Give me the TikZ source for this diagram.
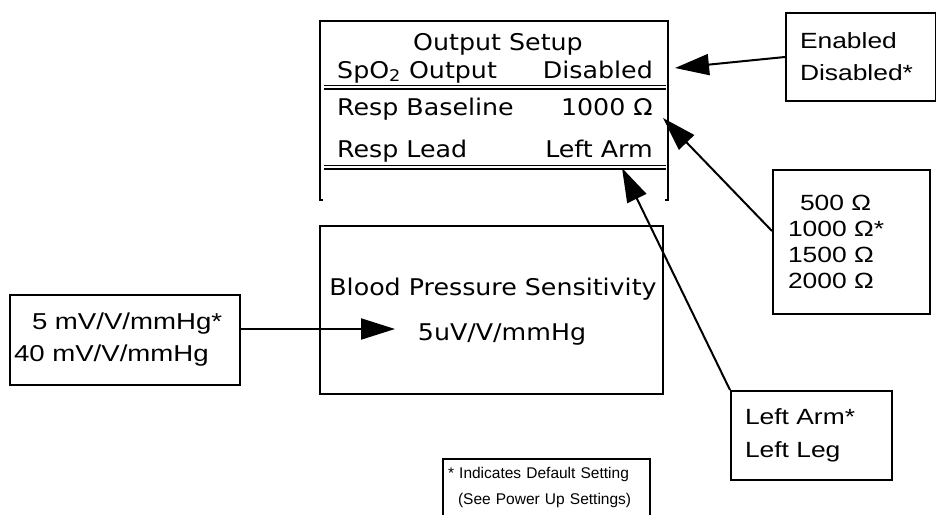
\documentclass[tikz,border=0pt]{standalone}
\usepackage{fontspec}
\usetikzlibrary{arrows.meta}
\newfontfamily\lcdfont[FakeStretch=1.1]{DejaVu Sans}
\newfontfamily\calloutfont[FakeStretch=1.2]{Liberation Sans}
\newfontfamily\notefont{Liberation Sans}
\tikzset{
  lcd/.style={font=\lcdfont\fontsize{23}{28}\selectfont,inner sep=0pt},
  optbox/.style={draw,line width=2pt,anchor=north west,align=left,inner ysep=0pt},
}

\begin{document}
\begin{tikzpicture}[x=1pt,y=-1pt,>={Triangle[length=34pt,width=21pt]}]
\useasboundingbox (0,0) rectangle (936,514);
\draw[line width=1.2pt] (323,200) -- (320,200) -- (320,21) -- (668,21) -- (668,200) -- (665,200);
\node[lcd,anchor=base] (OutTitle) at (498,50) {Output Setup};
\node[lcd,anchor=base west] (SpO) at (337,78) {SpO\textsubscript{2} Output};
\node[lcd,anchor=base east] (SpOVal) at (653,78) {Disabled};
\draw[line width=1.2pt] (324,85.5) -- (666,85.5) (324,89) -- (666,89);
\node[lcd,anchor=base west] (Base) at (337,115) {Resp Baseline};
\node[lcd,anchor=base east] (BaseVal) at (653,115) {1000 Ω};
\node[lcd,anchor=base west] (Lead) at (337,157) {Resp Lead};
\node[lcd,anchor=base east] (LeadVal) at (653,157) {Left Arm};
\draw[line width=1.2pt] (324,165.5) -- (666,165.5) (324,169) -- (666,169);
\draw[line width=1.2pt] (320,226) rectangle (663,394);
\node[lcd,anchor=base] (BPTitle) at (493,295) {Blood Pressure Sensitivity};
\node[lcd,anchor=base] (BPVal) at (502,340) {5uV/V/mmHg};
\node[optbox,minimum width=150pt,minimum height=88pt,inner xsep=14pt,text width=122pt,
  font=\calloutfont\fontsize{22}{32}\selectfont] (EnBox) at (785,12) {Enabled\\Disabled*};
\node[optbox,minimum width=157pt,minimum height=144pt,inner xsep=15pt,text width=127pt,
  font=\calloutfont\fontsize{22}{26}\selectfont] (OhmBox) at (772,169)
  {\hspace*{12pt}500 Ω\\1000 Ω*\\1500 Ω\\2000 Ω};
\node[optbox,minimum width=161pt,minimum height=89pt,inner xsep=14pt,text width=133pt,
  font=\calloutfont\fontsize{22}{33}\selectfont] (LeadBox) at (730,390) {Left Arm*\\Left Leg};
\node[optbox,minimum width=230pt,minimum height=90pt,inner xsep=4pt,text width=222pt,
  font=\calloutfont\fontsize{23}{32}\selectfont] (mVBox) at (9,294)
  {\hspace*{18pt}5 mV/V/mmHg*\\40 mV/V/mmHg};
\node[optbox,draw=none,minimum width=205pt,minimum height=55pt,inner xsep=4pt,text width=197pt,
  font=\notefont\fontsize{15.5}{26}\selectfont] (NoteBox) at (443,459)
  {* Indicates Default Setting\\\hspace*{10pt}(See Power Up Settings)};
\draw[line width=1.5pt] (NoteBox.south west) |- (NoteBox.north east) -- (NoteBox.south east);
\coordinate (EnTip) at (675,68);
\coordinate (OhmTip) at (663,118);
\coordinate (LeadTip) at (622,168);
\coordinate (BPTip) at (395,329);
\draw[->,line width=2pt] (EnBox.west) -- (EnTip);
\draw[->,line width=2pt] ([yshift=11pt]OhmBox.west) -- (OhmTip);
\draw[->,line width=2pt] (LeadBox.north west) -- (LeadTip);
\draw[->,line width=2pt] (mVBox.east |- BPTip) -- (BPTip);
\end{tikzpicture}
\end{document}
